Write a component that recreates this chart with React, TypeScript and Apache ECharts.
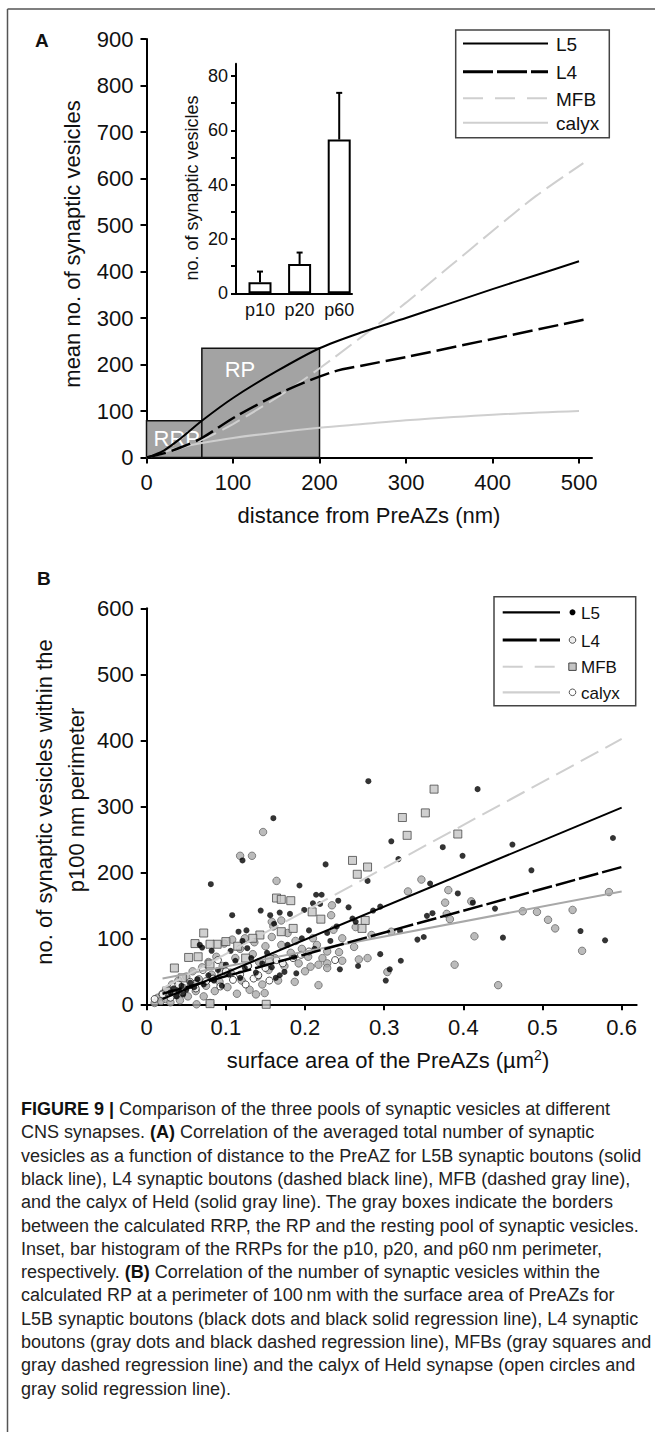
import React, { useEffect, useRef } from "react";
import * as echarts from "echarts";

const FONT = "'Liberation Sans', Arial, Helvetica, sans-serif";
const NARROW = "'Liberation Sans Narrow', 'Liberation Sans', Arial, sans-serif";

// ---------------- Panel A: vesicles vs distance ----------------
const distTicks = [0, 100, 200, 300, 400, 500];
const l5Curve = [[0, 0], [20, 15], [40, 42], [64, 79], [100, 128], [150, 185], [200, 235], [250, 270], [300, 300], [350, 331], [400, 362], [450, 392], [500, 422]];
const l4Curve = [[0, 0], [20, 9], [40, 22], [64, 42], [103, 88], [162, 145], [217, 185], [250, 198], [300, 216], [400, 255], [510, 298]];
const mfbCurve = [[0, 0], [30, 14], [64, 38], [100, 72], [150, 128], [180, 165], [217, 215], [264, 281], [300, 333], [350, 410], [400, 487], [450, 562], [505, 633]];
const calyxCurve = [[0, 0], [20, 12], [40, 22], [64, 31], [100, 42], [150, 54], [200, 64], [250, 72], [300, 80], [400, 92], [500, 100]];
// pool boxes: [from, to, height, labelX, labelY]
const poolNames = ["RRP", "RP"];
const poolBoxes = [[0, 64, 79, 35, 40], [64, 200, 235, 108, 190]];

// ---------------- Inset: RRP histogram ----------------
const insetCats = ["p10", "p20", "p60"];
const insetMeans = [4.1, 10.8, 56.6];
const insetErrUp = [3.9, 4.2, 17.2];
const insetTicks = [0, 10, 20, 30, 40, 50, 60, 70, 80];
const insetLabels = [0, 20, 40, 60, 80];

// ---------------- Panel B: vesicles vs PreAZ area ----------------
const areaTicks = [0, 0.1, 0.2, 0.3, 0.4, 0.5, 0.6];
const l5Reg = [[0.02, 8], [0.6, 298]];
const l4Reg = [[0.02, 16], [0.6, 208]];
const mfbReg = [[0.02, 24], [0.6, 402]];
const calyxReg = [[0.02, 39], [0.6, 171]];

const l5Pts = [
  [0.160, 282], [0.280, 338], [0.418, 326], [0.309, 247], [0.374, 238], [0.399, 225], [0.462, 242], [0.589, 252], [0.318, 220], [0.226, 212],
  [0.486, 203], [0.279, 187], [0.358, 183], [0.393, 168], [0.221, 166], [0.242, 157], [0.412, 154], [0.255, 147], [0.286, 142], [0.295, 148],
  [0.440, 145], [0.354, 134], [0.361, 138], [0.260, 130], [0.264, 125], [0.228, 108], [0.548, 111], [0.320, 111], [0.450, 101], [0.579, 97],
  [0.342, 98], [0.350, 102], [0.295, 76], [0.267, 58], [0.244, 53], [0.321, 66], [0.307, 53], [0.302, 36], [0.121, 218], [0.081, 182],
  [0.193, 180], [0.108, 135], [0.144, 142], [0.156, 135], [0.168, 139], [0.181, 137], [0.199, 143], [0.214, 166], [0.210, 153], [0.219, 152],
  [0.161, 122], [0.116, 110], [0.126, 112], [0.121, 96], [0.127, 85], [0.106, 81], [0.082, 81], [0.067, 90], [0.070, 86], [0.174, 49],
  [0.189, 47], [0.163, 40], [0.168, 44], [0.030, 18], [0.034, 24], [0.038, 12], [0.040, 20], [0.044, 28], [0.046, 15], [0.050, 22],
  [0.055, 33], [0.060, 26], [0.064, 38], [0.072, 30], [0.078, 44], [0.085, 36], [0.090, 52], [0.095, 28], [0.100, 60], [0.104, 45],
  [0.112, 66], [0.118, 40], [0.124, 55], [0.132, 70], [0.138, 48], [0.146, 62], [0.152, 78], [0.158, 56], [0.178, 90], [0.186, 72],
  [0.196, 100], [0.205, 112], [0.212, 84], [0.232, 96], [0.240, 118],
];
const l4Pts = [
  [0.147, 261], [0.118, 225], [0.133, 225], [0.164, 187], [0.347, 189], [0.330, 171], [0.381, 173], [0.234, 150], [0.377, 154], [0.410, 156],
  [0.233, 135], [0.475, 141], [0.493, 140], [0.538, 143], [0.379, 137], [0.383, 129], [0.264, 117], [0.236, 113], [0.507, 128], [0.516, 115],
  [0.284, 105], [0.309, 110], [0.247, 100], [0.414, 103], [0.550, 81], [0.584, 170], [0.262, 87], [0.228, 80], [0.243, 79], [0.247, 66],
  [0.228, 62], [0.268, 68], [0.279, 70], [0.304, 49], [0.389, 60], [0.444, 29], [0.158, 125], [0.160, 118], [0.170, 127], [0.187, 34],
  [0.217, 29], [0.149, 17], [0.138, 15], [0.207, 57], [0.217, 60], [0.228, 55], [0.010, 2], [0.014, 10], [0.018, 5], [0.020, 16],
  [0.024, 8], [0.026, 22], [0.030, 3], [0.032, 30], [0.036, 14], [0.040, 36], [0.042, 6], [0.046, 25], [0.050, 42], [0.052, 12],
  [0.056, 30], [0.058, 50], [0.062, 20], [0.063, 0], [0.066, 38], [0.070, 56], [0.072, 12], [0.075, 28], [0.078, 64], [0.080, 2],
  [0.082, 45], [0.086, 20], [0.088, 72], [0.092, 34], [0.096, 58], [0.098, 92], [0.102, 26], [0.106, 48], [0.108, 98], [0.112, 70],
  [0.114, 16], [0.118, 84], [0.120, 36], [0.124, 100], [0.128, 58], [0.130, 22], [0.134, 76], [0.136, 94], [0.140, 42], [0.142, 64],
  [0.146, 30], [0.150, 88], [0.154, 52], [0.158, 102], [0.162, 70], [0.166, 36], [0.170, 90], [0.174, 58], [0.178, 108], [0.182, 78],
  [0.188, 96], [0.192, 62], [0.196, 84], [0.200, 50], [0.204, 72], [0.210, 100], [0.215, 90], [0.222, 70],
];
const mfbPts = [
  [0.363, 326], [0.323, 283], [0.352, 290], [0.329, 256], [0.393, 258], [0.260, 218], [0.279, 208], [0.266, 197], [0.276, 127], [0.272, 115],
  [0.164, 161], [0.170, 159], [0.182, 157], [0.209, 140], [0.220, 129], [0.185, 115], [0.170, 110], [0.072, 108], [0.061, 92], [0.089, 91],
  [0.080, 91], [0.035, 55], [0.053, 71], [0.065, 72], [0.080, 61], [0.143, 105], [0.134, 100], [0.151, 0], [0.080, 1], [0.100, 95],
  [0.115, 88], [0.045, 40], [0.025, 20], [0.060, 30], [0.095, 48], [0.155, 68], [0.125, 70],
];
const calyxPts = [
  [0.010, 8], [0.034, 27], [0.055, 34], [0.084, 39], [0.093, 27], [0.109, 37], [0.135, 39], [0.141, 44], [0.164, 67], [0.185, 70],
  [0.090, 67], [0.071, 52], [0.238, 67], [0.045, 18], [0.062, 24], [0.075, 35], [0.100, 50], [0.118, 45], [0.125, 30], [0.150, 55],
  [0.172, 62], [0.195, 75], [0.205, 80], [0.030, 10], [0.020, 15], [0.040, 30], [0.155, 36], [0.128, 58],
];

// ---------------- Caption ----------------
const captionLines = [
  "{b|FIGURE 9 |} Comparison of the three pools of synaptic vesicles at different",
  "CNS synapses. {b|(A)} Correlation of the averaged total number of synaptic",
  "vesicles as a function of distance to the PreAZ for L5B synaptic boutons (solid",
  "black line), L4 synaptic boutons (dashed black line), MFB (dashed gray line),",
  "and the calyx of Held (solid gray line). The gray boxes indicate the borders",
  "between the calculated RRP, the RP and the resting pool of synaptic vesicles.",
  "Inset, bar histogram of the RRPs for the p10, p20, and p60\u2009nm perimeter,",
  "respectively. {b|(B)} Correlation of the number of synaptic vesicles within the",
  "calculated RP at a perimeter of 100\u2009nm with the surface area of PreAZs for",
  "L5B synaptic boutons (black dots and black solid regression line), L4 synaptic",
  "boutons (gray dots and black dashed regression line), MFBs (gray squares and",
  "gray dashed regression line) and the calyx of Held synapse (open circles and",
  "gray solid regression line).",
];

const LIGHT = "#cfcfcf";

function axisBase(fontSize: number, margin: number) {
  return {
    axisLine: { show: true, onZero: false, lineStyle: { color: "#000", width: 2 } },
    axisTick: { show: true, length: 6, lineStyle: { color: "#000", width: 2 } },
    axisLabel: { color: "#111", fontSize, fontFamily: FONT, margin },
    splitLine: { show: false },
  };
}

function txt(x: number, y: number, text: string, font: string, extra: any = {}) {
  return {
    type: "text",
    x,
    y,
    z: 20,
    ...extra,
    style: { text, font, fill: "#111", textAlign: "left", textVerticalAlign: "middle", ...(extra.style || {}) },
  };
}

function buildOption(): any {
  const a = axisBase(22, 13);
  const graphic: any[] = [];
  // frame
  graphic.push({ type: "line", shape: { x1: 7.5, y1: 9, x2: 655, y2: 9 }, style: { stroke: "#555", lineWidth: 1.5 } });
  graphic.push({ type: "line", shape: { x1: 7.5, y1: 9, x2: 7.5, y2: 1432 }, style: { stroke: "#555", lineWidth: 1.5 } });
  // panel letters
  graphic.push(txt(35, 40, "A", `bold 19px ${FONT}`));
  graphic.push(txt(37, 578, "B", `bold 19px ${FONT}`));
  // axis titles
  graphic.push(txt(72, 244, "mean no. of synaptic vesicles", `22px ${FONT}`, { rotation: Math.PI / 2, style: { textAlign: "center" } }));
  graphic.push(txt(369, 515, "distance from PreAZs (nm)", `22px ${FONT}`, { style: { textAlign: "center" } }));
  graphic.push(txt(192, 188, "no. of synaptic vesicles", `18px ${FONT}`, { rotation: Math.PI / 2, style: { textAlign: "center" } }));
  graphic.push(txt(44, 802, "no. of synaptic vesicles within the", `22px ${FONT}`, { rotation: Math.PI / 2, style: { textAlign: "center" } }));
  graphic.push(txt(76, 800, "p100 nm perimeter", `22px ${FONT}`, { rotation: Math.PI / 2, style: { textAlign: "center" } }));
  graphic.push({
    type: "text", x: 388, y: 1060, z: 20,
    style: {
      text: "surface area of the PreAZs (\u00b5m{s|2})", font: `22px ${FONT}`, fill: "#111", textAlign: "center", textVerticalAlign: "middle",
      rich: { s: { fontSize: 14, fontFamily: FONT, verticalAlign: "top", padding: [0, 0, 10, 0] } },
    },
  });

  // legend A
  graphic.push({ type: "rect", z: 15, shape: { x: 455.7, y: 30, width: 153.6, height: 107.7 }, style: { fill: "#fff", stroke: "#444", lineWidth: 1.5 } });
  const legA = [
    { y: 43.5, label: "L5", stroke: "#000", w: 2, dash: null },
    { y: 71.7, label: "L4", stroke: "#000", w: 3, dash: [30, 4] },
    { y: 98.3, label: "MFB", stroke: LIGHT, w: 2, dash: [20, 12] },
    { y: 122.7, label: "calyx", stroke: LIGHT, w: 2, dash: null },
  ];
  legA.forEach((r) => {
    graphic.push({ type: "line", z: 16, shape: { x1: 463, y1: r.y, x2: 548, y2: r.y }, style: { stroke: r.stroke, lineWidth: r.w, lineDash: r.dash || undefined } });
    graphic.push(txt(556, r.y + 1, r.label, `19px ${FONT}`, { z: 16 }));
  });

  // legend B
  graphic.push({ type: "rect", z: 15, shape: { x: 494, y: 596.7, width: 141.7, height: 109 }, style: { fill: "#fff", stroke: "#444", lineWidth: 1.5 } });
  const legB = [
    { y: 612.3, label: "L5", stroke: "#000", w: 2.2, dash: null },
    { y: 640, label: "L4", stroke: "#000", w: 3, dash: [34, 3] },
    { y: 666.7, label: "MFB", stroke: LIGHT, w: 2, dash: [20, 12] },
    { y: 692.3, label: "calyx", stroke: LIGHT, w: 2.2, dash: null },
  ];
  legB.forEach((r) => {
    graphic.push({ type: "line", z: 16, shape: { x1: 502.7, y1: r.y, x2: 560, y2: r.y }, style: { stroke: r.stroke, lineWidth: r.w, lineDash: r.dash || undefined } });
    graphic.push(txt(581, r.y + 1, r.label, `17px ${NARROW}`, { z: 16 }));
  });
  graphic.push({ type: "circle", z: 16, shape: { cx: 572.5, cy: 612.3, r: 3 }, style: { fill: "#000" } });
  graphic.push({ type: "circle", z: 16, shape: { cx: 572.5, cy: 640, r: 3.3 }, style: { fill: "#eee", stroke: "#555", lineWidth: 1 } });
  graphic.push({ type: "rect", z: 16, shape: { x: 568.8, y: 663, width: 7.4, height: 7.4 }, style: { fill: "#c4c4c4", stroke: "#444", lineWidth: 1 } });
  graphic.push({ type: "circle", z: 16, shape: { cx: 572.5, cy: 692.3, r: 3.3 }, style: { fill: "#fff", stroke: "#555", lineWidth: 1 } });

  // caption
  captionLines.forEach((line, i) => {
    graphic.push({
      type: "text", x: 21, y: 1109 + i * 23.3, z: 20,
      style: {
        text: line, fontSize: 18, fontFamily: NARROW, fill: "#222", textVerticalAlign: "middle",
        rich: { b: { fontSize: 18, fontFamily: NARROW, fontWeight: "bold", fill: "#111" } },
      },
    });
  });

  return {
    animation: false,
    backgroundColor: "#fff",
    grid: [
      { left: 146.5, top: 39, width: 445.5, height: 418.5 },
      { left: 236, top: 63.8, width: 116, height: 229.5 },
      { left: 146.7, top: 608.3, width: 490, height: 396 },
    ],
    xAxis: [
      {
        type: "value", gridIndex: 0, min: 0, max: 515, ...a,
        axisTick: { ...a.axisTick, customValues: distTicks },
        axisLabel: { ...a.axisLabel, customValues: distTicks, margin: 14 },
      },
      {
        type: "value", gridIndex: 1, min: -0.606, max: 2.323, ...axisBase(18, 8),
        axisTick: { show: false },
        axisLabel: { color: "#111", fontSize: 18, fontFamily: FONT, margin: 8, customValues: [0, 1, 2], formatter: (v: number) => insetCats[Math.round(v)] },
      },
      {
        type: "value", gridIndex: 2, min: 0, max: 0.619, ...a,
        axisTick: { ...a.axisTick, customValues: areaTicks },
        axisLabel: { ...a.axisLabel, customValues: areaTicks, margin: 12, formatter: (v: number) => (v === 0 ? "0" : v.toFixed(1)) },
      },
    ],
    yAxis: [
      { type: "value", gridIndex: 0, min: 0, max: 900, interval: 100, ...a },
      {
        type: "value", gridIndex: 1, min: 0, max: 84.5, ...axisBase(18, 8),
        axisTick: { show: true, length: 5, lineStyle: { color: "#000", width: 2 }, customValues: insetTicks },
        axisLabel: { color: "#111", fontSize: 18, fontFamily: FONT, margin: 8, customValues: insetLabels },
      },
      { type: "value", gridIndex: 2, min: 0, max: 600, interval: 100, ...a },
    ],
    series: [
      // Panel A pool boxes
      {
        type: "custom", xAxisIndex: 0, yAxisIndex: 0, z: 1, silent: true,
        data: poolBoxes,
        renderItem: (params: any, api: any) => {
          const p0 = api.coord([api.value(0), 0]);
          const p1 = api.coord([api.value(1), api.value(2)]);
          const pl = api.coord([api.value(3), api.value(4)]);
          return {
            type: "group",
            children: [
              { type: "rect", shape: { x: p0[0], y: p1[1], width: p1[0] - p0[0], height: p0[1] - p1[1] }, style: { fill: "#a3a3a3", stroke: "#111", lineWidth: 1.5 } },
              { type: "text", x: pl[0], y: pl[1], style: { text: poolNames[params.dataIndex], fill: "#fff", font: `22px ${FONT}`, textAlign: "center", textVerticalAlign: "middle" } },
            ],
          };
        },
      },
      { type: "line", name: "calyx", xAxisIndex: 0, yAxisIndex: 0, z: 3, data: calyxCurve, smooth: 0.3, symbol: "none", lineStyle: { color: LIGHT, width: 2 } },
      { type: "line", name: "MFB", xAxisIndex: 0, yAxisIndex: 0, z: 3, data: mfbCurve, smooth: 0.3, symbol: "none", lineStyle: { color: LIGHT, width: 2, type: [20, 7] } },
      { type: "line", name: "L4", xAxisIndex: 0, yAxisIndex: 0, z: 4, data: l4Curve, smooth: 0.3, symbol: "none", lineStyle: { color: "#000", width: 2.5, type: [20, 6] } },
      { type: "line", name: "L5", xAxisIndex: 0, yAxisIndex: 0, z: 5, data: l5Curve, smooth: 0.3, symbol: "none", lineStyle: { color: "#000", width: 2 } },
      // inset bars
      {
        type: "bar", xAxisIndex: 1, yAxisIndex: 1, barWidth: 23, z: 3,
        data: insetMeans.map((m, i) => [i, m]),
        itemStyle: { color: "#fff", borderColor: "#000", borderWidth: 2 },
      },
      {
        type: "custom", xAxisIndex: 1, yAxisIndex: 1, z: 4,
        data: insetMeans.map((m, i) => [i, m, insetErrUp[i]]),
        renderItem: (params: any, api: any) => {
          const base = api.coord([api.value(0), api.value(1)]);
          const top = api.coord([api.value(0), api.value(1) + api.value(2)]);
          return {
            type: "group",
            children: [
              { type: "line", shape: { x1: base[0], y1: base[1], x2: top[0], y2: top[1] }, style: { stroke: "#000", lineWidth: 2 } },
              { type: "line", shape: { x1: top[0] - 3, y1: top[1], x2: top[0] + 3, y2: top[1] }, style: { stroke: "#000", lineWidth: 2 } },
            ],
          };
        },
      },
      // Panel B scatter
      { type: "scatter", name: "L4 pts", xAxisIndex: 2, yAxisIndex: 2, z: 2, data: l4Pts, symbol: "circle", symbolSize: 7.5, itemStyle: { color: "#aaaaaa", borderColor: "#6a6a6a", borderWidth: 1 } },
      { type: "scatter", name: "MFB pts", xAxisIndex: 2, yAxisIndex: 2, z: 2, data: mfbPts, symbol: "rect", symbolSize: 8, itemStyle: { color: "#c4c4c4", borderColor: "#4a4a4a", borderWidth: 1 } },
      { type: "scatter", name: "calyx pts", xAxisIndex: 2, yAxisIndex: 2, z: 2, data: calyxPts, symbol: "circle", symbolSize: 7, itemStyle: { color: "#fff", borderColor: "#222", borderWidth: 1 } },
      { type: "scatter", name: "L5 pts", xAxisIndex: 2, yAxisIndex: 2, z: 2, data: l5Pts, symbol: "circle", symbolSize: 6, itemStyle: { color: "#000" } },
      // Panel B regression lines
      { type: "line", xAxisIndex: 2, yAxisIndex: 2, z: 3, data: calyxReg, symbol: "none", lineStyle: { color: "#a8a8a8", width: 2 } },
      { type: "line", xAxisIndex: 2, yAxisIndex: 2, z: 3, data: mfbReg, symbol: "none", lineStyle: { color: LIGHT, width: 2, type: [20, 8] } },
      { type: "line", xAxisIndex: 2, yAxisIndex: 2, z: 4, data: l4Reg, symbol: "none", lineStyle: { color: "#000", width: 2.5, type: [20, 4] } },
      { type: "line", xAxisIndex: 2, yAxisIndex: 2, z: 4, data: l5Reg, symbol: "none", lineStyle: { color: "#000", width: 2 } },
    ],
    graphic,
  };
}

export default function App() {
  const ref = useRef<HTMLDivElement>(null);
  useEffect(() => {
    if (!ref.current) return;
    const chart = echarts.init(ref.current, null, { renderer: "svg" });
    chart.setOption(buildOption());
    return () => chart.dispose();
  }, []);
  return <div ref={ref} style={{ position: "absolute", left: 0, top: 0, width: 655, height: 1432, background: "#fff" }} />;
}
